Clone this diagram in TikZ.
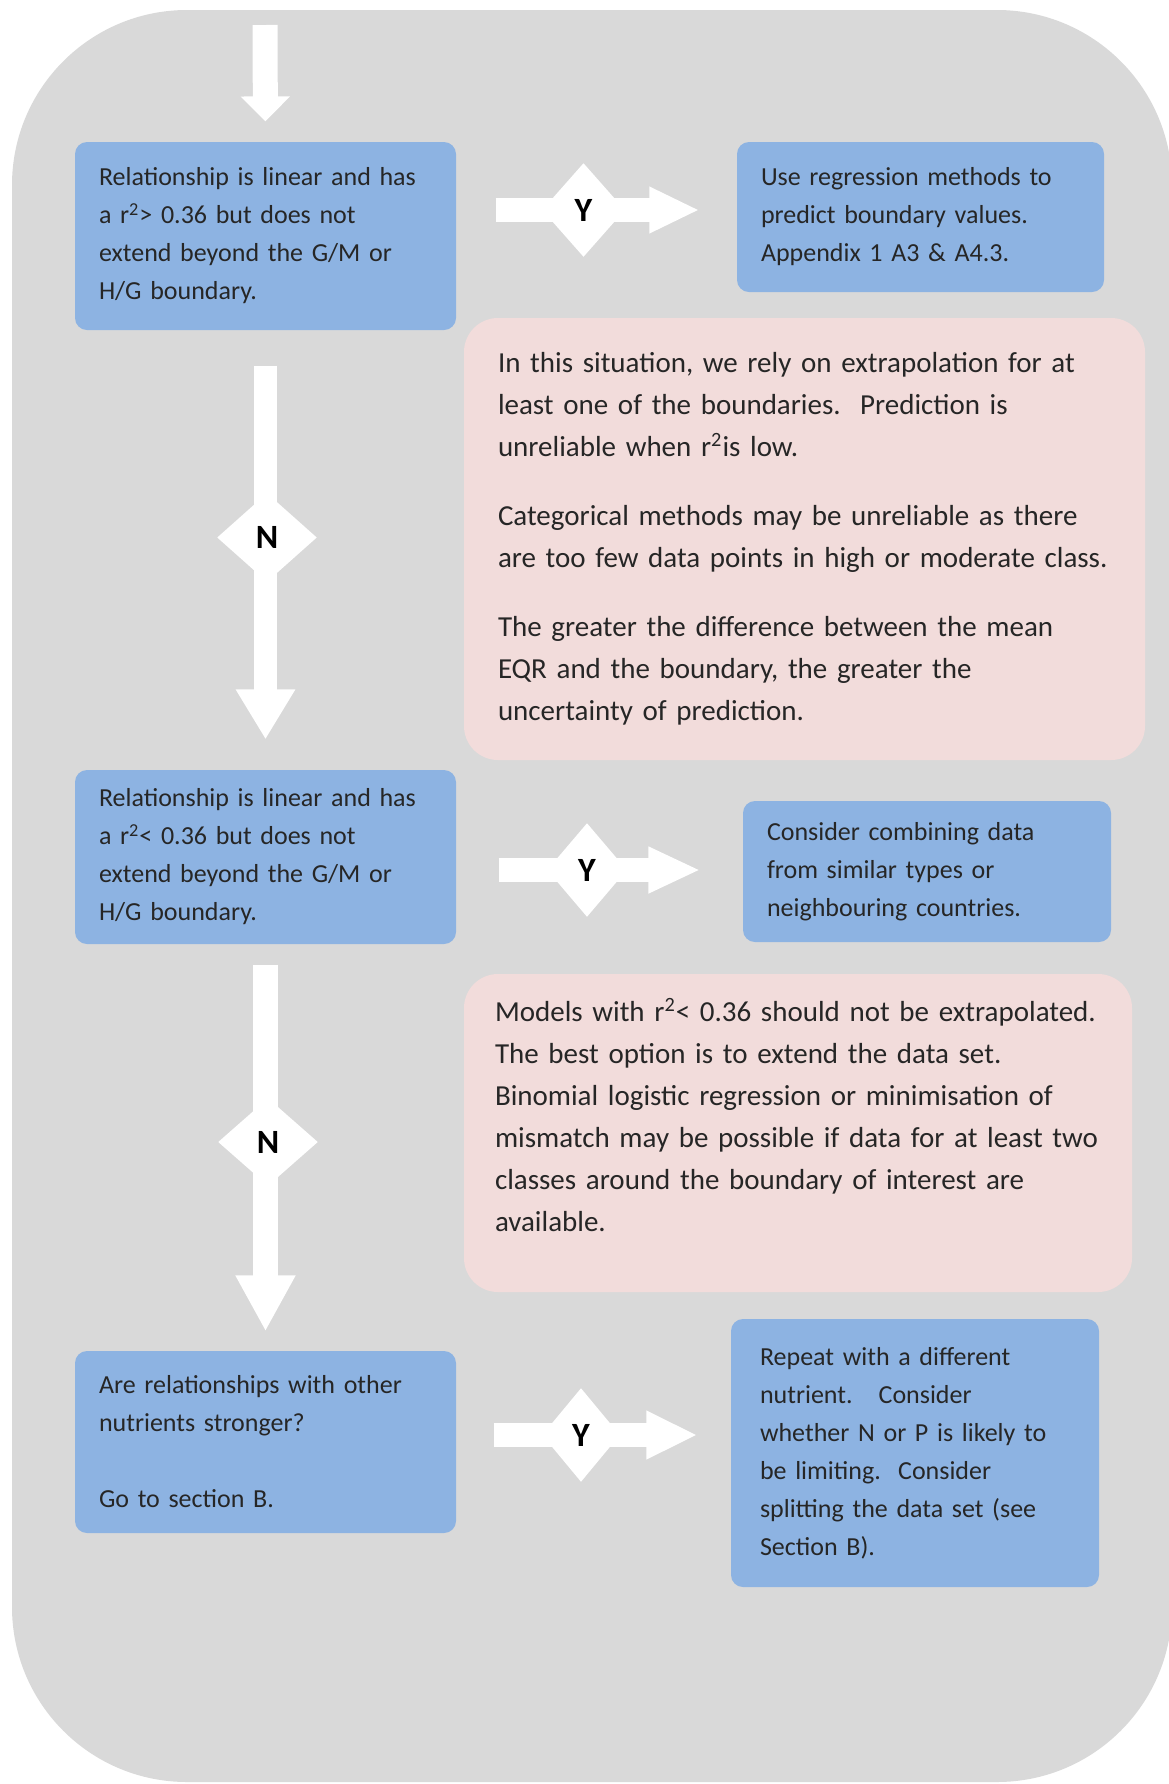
\documentclass[tikz,border=0pt]{standalone}
\usepackage{fontspec}
\setmainfont{Carlito}
\usepackage{tikz}
\usetikzlibrary{arrows.meta,shapes.geometric}
\pgfdeclarelayer{bg}
\pgfsetlayers{bg,main}
\definecolor{panelgray}{RGB}{217,217,217}
\definecolor{boxblue}{RGB}{141,179,226}
\definecolor{boxpink}{RGB}{242,220,219}

\begin{document}
\begin{tikzpicture}[x=0.5pt,y=-0.5pt,semithick]
  \tikzstyle{bluebox}=[rectangle,rounded corners=6pt,fill=boxblue,text=black!85,align=left,
                       inner xsep=12pt,inner ysep=0pt,font=\fontsize{13}{19}\selectfont]
  \tikzstyle{pinkbox}=[rectangle,rounded corners=17pt,fill=boxpink,text=black!85,align=left,
                       inner xsep=16pt,inner ysep=0pt,font=\fontsize{14.5}{21}\selectfont]
  \tikzstyle{choice}=[diamond,fill=white,inner sep=0pt,aspect=1,font=\fontsize{17}{17}\selectfont\bfseries]
  \tikzstyle{flow}=[draw=white,line width=12pt]

  \useasboundingbox (0,0) rectangle (1168,1784);

  % left column
  \node[bluebox,text width=166.5pt,minimum height=94pt] (A1) at (265.5,236)
    {Relationship is linear and has\\ a r\textsuperscript{2}> 0.36 but does not\\ extend beyond the G/M or\\ H/G boundary.};
  \node[bluebox,text width=166.5pt,minimum height=87pt] (A2) at (265.5,857)
    {Relationship is linear and has\\ a r\textsuperscript{2}< 0.36 but does not\\ extend beyond the G/M or\\ H/G boundary.};
  \node[bluebox,text width=166.5pt,minimum height=91pt] (A3) at (265.5,1442)
    {Are relationships with other\\ nutrients stronger?\\[19pt] Go to section B.};

  % right column
  \node[bluebox,text width=159.5pt,minimum height=75pt] (B1) at (920.5,217)
    {Use regression methods to\\ predict boundary values.\\ Appendix 1 A3 \& A4.3.};
  \node[bluebox,text width=160pt,minimum height=70.5pt] (B2) at (927,871.5)
    {Consider combining data\\ from similar types or\\ neighbouring countries.};
  \node[bluebox,inner xsep=14.5pt,text width=155pt,minimum height=134pt] (B3) at (915,1453)
    {Repeat with a different\\ nutrient.\ \ \ Consider\\ whether N or P is likely to\\ be limiting.\ \ Consider\\ splitting the data set (see\\ Section B).};

  % notes
  \node[pinkbox,inner xsep=17pt,text width=306.5pt,minimum height=221pt] (P1) at (804.5,539)
    {In this situation, we rely on extrapolation for at\\ least one of the boundaries.\ \ Prediction is\\ unreliable when r\textsuperscript{2}is low.\\[13.5pt]
     Categorical methods may be unreliable as there\\ are too few data points in high or moderate class.\\[13.5pt]
     The greater the difference between the mean\\ EQR and the boundary, the greater the\\ uncertainty of prediction.};
  \node[pinkbox,inner xsep=15.5pt,text width=303pt,minimum height=159pt] (P2) at (798,1133)
    {Models with r\textsuperscript{2}< 0.36 should not be extrapolated.\\ The best option is to extend the data set.\\ Binomial logistic regression or minimisation of\\ mismatch may be possible if data for at least two\\ classes around the boundary of interest are\\ available.\par\vspace{18pt}};

  % decisions
  \node[choice,minimum width=41.5pt,minimum height=47pt] (Y1) at (583.5,210) {Y};
  \node[choice,minimum width=50pt,minimum height=44.5pt] (N1) at (267,537.5) {N};
  \node[choice,minimum width=40pt,minimum height=47pt] (Y2) at (587,870) {Y};
  \node[choice,minimum width=50pt,minimum height=44pt] (N2) at (268,1142) {N};
  \node[choice,minimum width=39pt,minimum height=47pt] (Y3) at (581,1435) {Y};

  \coordinate (in) at (265,25);

  \begin{pgfonlayer}{bg}
    \fill[panelgray,rounded corners=87.5pt] (12,10) rectangle (1172,1782);

    \draw[flow,line width=12.5pt,-{Triangle[length=12.5pt,width=24pt]},shorten >=10pt] (in) -- (A1.north);
    \draw[flow,line width=11.5pt,-{Triangle[length=25pt,width=28pt]},shorten <=17.5pt,shorten >=15pt] (A1.south) -- (A2.north);
    \draw[flow,line width=12.5pt,-{Triangle[length=28pt,width=28pt]},shorten <=10pt,shorten >=9.5pt] (A2.south) -- (A3.north);

    \draw[flow,-{Triangle[length=25pt,width=21.5pt]},shorten <=19.5pt,shorten >=18.5pt] (A1.east |- Y1) -- (B1.west |- Y1);
    \draw[flow,-{Triangle[length=26pt,width=21.5pt]},shorten <=21pt,shorten >=21pt] (A2.east |- Y2) -- (B2.west |- Y2);
    \draw[flow,-{Triangle[length=25.5pt,width=22.5pt]},shorten <=18.5pt,shorten >=16.5pt] (A3.east |- Y3) -- (B3.west |- Y3);
  \end{pgfonlayer}
\end{tikzpicture}
\end{document}
